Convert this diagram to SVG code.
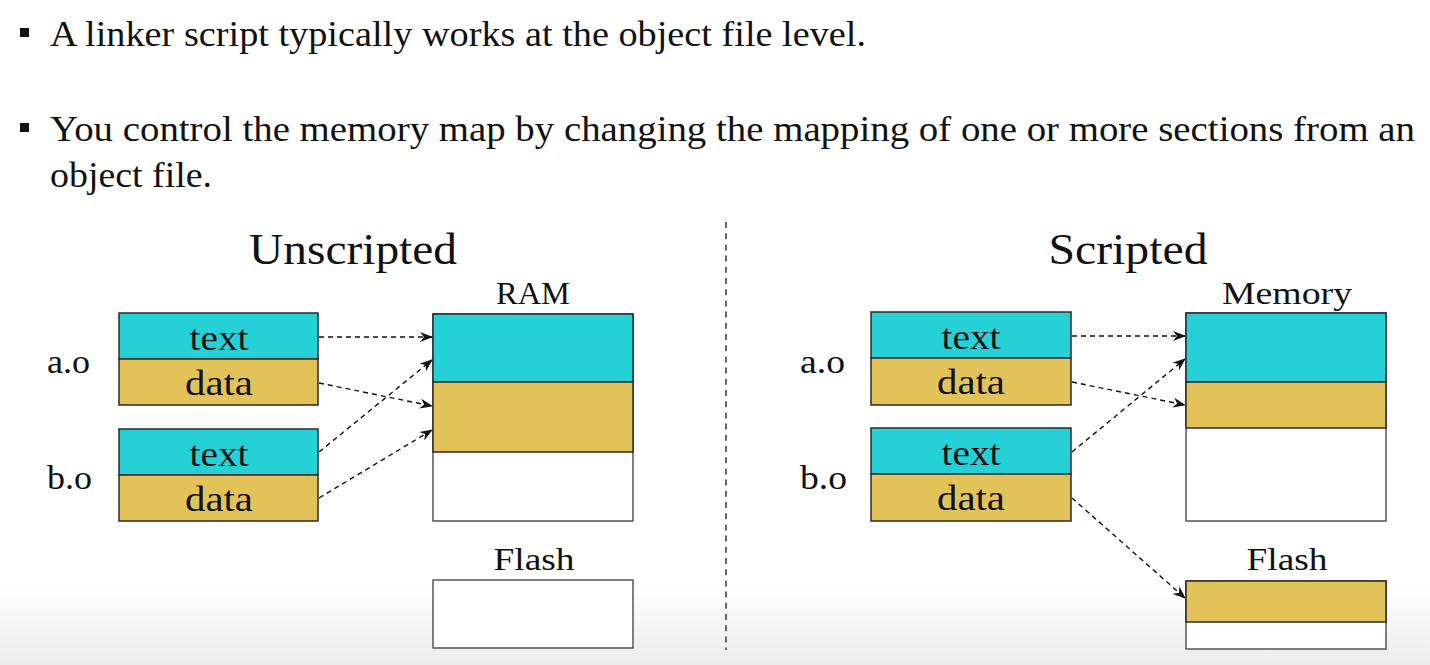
<svg xmlns="http://www.w3.org/2000/svg" width="1430" height="665" viewBox="0 0 1430 665">
<defs>
<linearGradient id="bg" x1="0" y1="0" x2="0" y2="1">
<stop offset="0" stop-color="#ffffff"/>
<stop offset="0.88" stop-color="#ffffff"/>
<stop offset="1" stop-color="#ececec"/>
</linearGradient>
<marker id="arr" viewBox="0 0 13 10" refX="12" refY="5" markerWidth="13" markerHeight="10" markerUnits="userSpaceOnUse" orient="auto">
<path d="M0,0 L13,5 L0,10 L4,5 z" fill="#111"/>
</marker>
<style>
.t{font-family:"Liberation Serif","DejaVu Serif",serif;fill:#111;}
.b{font-size:36px;}
.h{font-size:44px;text-anchor:middle;}
.m{font-size:32px;text-anchor:middle;}
.c{font-size:36px;text-anchor:middle;}
.o{font-size:34px;}
.cy{fill:#25d1d7;stroke:#2a2a2a;stroke-width:1.5;}
.gd{fill:#e2c35a;stroke:#2a2a2a;stroke-width:1.5;}
.wh{fill:#ffffff;stroke:#555;stroke-width:1.5;}
.cn{fill:none;stroke:#111;stroke-width:1.4;stroke-dasharray:5 4;marker-end:url(#arr);}
</style>
</defs>
<rect x="0" y="0" width="1430" height="665" fill="url(#bg)"/>

<g id="bullets">
<rect x="20" y="28" width="9" height="9" fill="#111"/>
<text class="t b" x="50" y="46" textLength="816" lengthAdjust="spacingAndGlyphs">A linker script typically works at the object file level.</text>
<rect x="20" y="123" width="9" height="9" fill="#111"/>
<text class="t b" x="50" y="141" textLength="1365" lengthAdjust="spacingAndGlyphs">You control the memory map by changing the mapping of one or more sections from an</text>
<text class="t b" x="50" y="187" textLength="162" lengthAdjust="spacingAndGlyphs">object file.</text>
</g>

<line id="divider" x1="726" y1="222" x2="726" y2="650" stroke="#666" stroke-width="2" stroke-dasharray="6 5.2"/>

<g id="unscripted">
<text class="t h" x="353" y="264" textLength="208" lengthAdjust="spacingAndGlyphs">Unscripted</text>
</g>
<g id="scripted">
<text class="t h" x="1128" y="264" textLength="159" lengthAdjust="spacingAndGlyphs">Scripted</text>
</g>

<g id="left-ao">
<text class="t o" x="47" y="373" textLength="43" lengthAdjust="spacingAndGlyphs">a.o</text>
<rect class="cy" x="119" y="313" width="199" height="46"/>
<rect class="gd" x="119" y="359" width="199" height="46"/>
<text class="t c" x="219" y="350" textLength="59" lengthAdjust="spacingAndGlyphs">text</text>
<text class="t c" x="219" y="395" textLength="68" lengthAdjust="spacingAndGlyphs">data</text>
</g>
<g id="left-bo">
<text class="t o" x="47" y="489" textLength="45" lengthAdjust="spacingAndGlyphs">b.o</text>
<rect class="cy" x="119" y="429" width="199" height="46"/>
<rect class="gd" x="119" y="475" width="199" height="46"/>
<text class="t c" x="219" y="466" textLength="59" lengthAdjust="spacingAndGlyphs">text</text>
<text class="t c" x="219" y="511" textLength="68" lengthAdjust="spacingAndGlyphs">data</text>
</g>
<g id="left-ram">
<text class="t m" x="533" y="304" textLength="74" lengthAdjust="spacingAndGlyphs">RAM</text>
<rect class="wh" x="433" y="314" width="200" height="207"/>
<rect class="cy" x="433" y="314" width="200" height="68"/>
<rect class="gd" x="433" y="382" width="200" height="70"/>
</g>
<g id="left-flash">
<text class="t m" x="534" y="570" textLength="81" lengthAdjust="spacingAndGlyphs">Flash</text>
<rect class="wh" x="433" y="580" width="200" height="68"/>
</g>

<g id="right-ao">
<text class="t o" x="800" y="373" textLength="45" lengthAdjust="spacingAndGlyphs">a.o</text>
<rect class="cy" x="871" y="312" width="200" height="46"/>
<rect class="gd" x="871" y="358" width="200" height="47"/>
<text class="t c" x="971" y="349" textLength="59" lengthAdjust="spacingAndGlyphs">text</text>
<text class="t c" x="971" y="394" textLength="68" lengthAdjust="spacingAndGlyphs">data</text>
</g>
<g id="right-bo">
<text class="t o" x="800" y="489" textLength="47" lengthAdjust="spacingAndGlyphs">b.o</text>
<rect class="cy" x="871" y="428" width="200" height="46"/>
<rect class="gd" x="871" y="474" width="200" height="47"/>
<text class="t c" x="971" y="465" textLength="59" lengthAdjust="spacingAndGlyphs">text</text>
<text class="t c" x="971" y="510" textLength="68" lengthAdjust="spacingAndGlyphs">data</text>
</g>
<g id="right-memory">
<text class="t m" x="1287" y="304" textLength="130" lengthAdjust="spacingAndGlyphs">Memory</text>
<rect class="wh" x="1186" y="313" width="200" height="208"/>
<rect class="cy" x="1186" y="313" width="200" height="69"/>
<rect class="gd" x="1186" y="382" width="200" height="46"/>
</g>
<g id="right-flash">
<text class="t m" x="1287" y="570" textLength="81" lengthAdjust="spacingAndGlyphs">Flash</text>
<rect class="wh" x="1186" y="581" width="200" height="68"/>
<rect class="gd" x="1186" y="581" width="200" height="41"/>
</g>

<g id="connectors">
<line class="cn" x1="319" y1="337" x2="432" y2="337"/>
<line class="cn" x1="319" y1="383" x2="432" y2="406"/>
<line class="cn" x1="319" y1="452" x2="432" y2="360"/>
<line class="cn" x1="319" y1="498" x2="432" y2="430"/>
<line class="cn" x1="1072" y1="336" x2="1185" y2="336"/>
<line class="cn" x1="1072" y1="382" x2="1185" y2="405"/>
<line class="cn" x1="1072" y1="452" x2="1185" y2="359"/>
<line class="cn" x1="1072" y1="498" x2="1185" y2="598"/>
</g>
</svg>
